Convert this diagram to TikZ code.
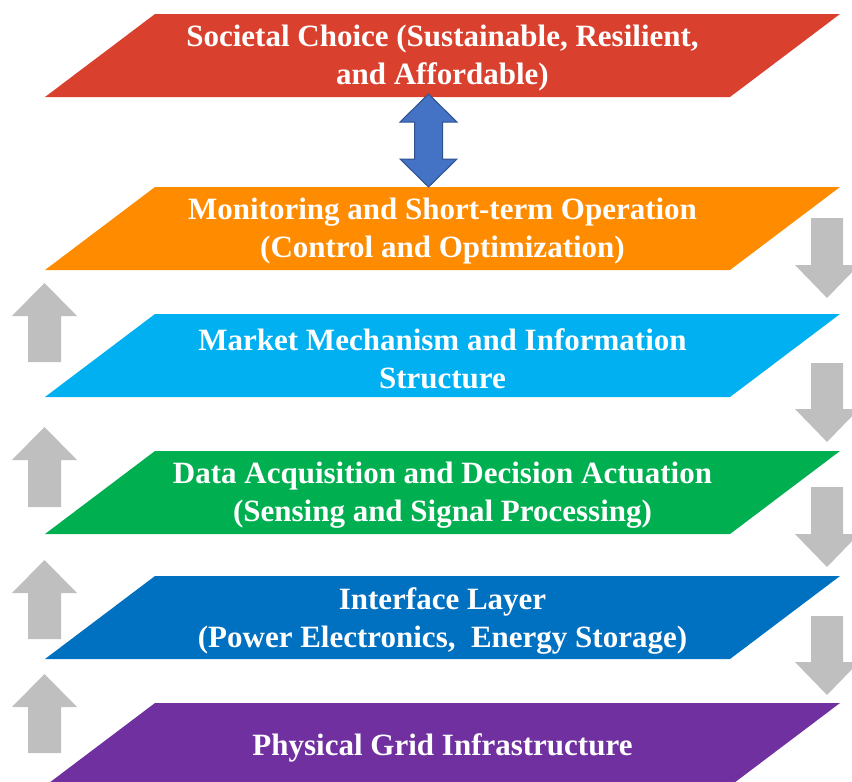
\documentclass[tikz,border=0pt]{standalone}
\usepackage{fontspec}
\setmainfont{Liberation Serif}
\definecolor{lred}{HTML}{D9412E}
\definecolor{lorange}{HTML}{FF8C00}
\definecolor{lcyan}{HTML}{00B0F0}
\definecolor{lgreen}{HTML}{00B050}
\definecolor{lblue}{HTML}{0070C0}
\definecolor{lpurple}{HTML}{7030A0}
\definecolor{arrgray}{HTML}{BFBFBF}
\definecolor{dblfill}{HTML}{4472C4}
\definecolor{dbldraw}{HTML}{2F528F}
\newcommand\layerbox[4]{% name, top y, colour, text
  \fill[#3] (155,#2) -- (840,#2) -- (730,#2+83) -- (45,#2+83) -- cycle;
  \node[layertext] (#1) at (442.5,#2+44.5) {#4};}
\newcommand\grayuparrow[3]{% name, tip y, bottom y
  \fill[grayarrow] (44.5,#2) -- (77,#2+33) -- (61,#2+33) -- (61,#3) -- (28,#3) -- (28,#2+33) -- (12,#2+33) -- cycle;
  \coordinate (#1) at (44.5,#2);}
\newcommand\graydownarrow[3]{% name, top y, tip y
  \fill[grayarrow] (811,#2) -- (843,#2) -- (843,#3-33) -- (859,#3-33) -- (827,#3) -- (795,#3-33) -- (811,#3-33) -- cycle;
  \coordinate (#1) at (827,#3);}
\begin{document}
\begin{tikzpicture}[x=1pt,y=-1pt,
  layertext/.style={text=white,align=center,font=\fontsize{31}{38}\selectfont\bfseries,inner sep=0pt},
  grayarrow/.style={fill=arrgray},
  dblarrow/.style={fill=dblfill,draw=dbldraw,line width=1pt,line join=miter}]
\useasboundingbox (0,0) rectangle (852,782);
\begin{scope}
\clip (0,0) rectangle (852,782);
\layerbox{societal}{14}{lred}{Societal Choice (Sustainable, Resilient,\\and Affordable)}
\layerbox{monitor}{187}{lorange}{Monitoring and Short-term Operation\\(Control and Optimization)}
\layerbox{market}{314}{lcyan}{Market Mechanism and Information\\Structure}
\layerbox{data}{451}{lgreen}{Data Acquisition and Decision Actuation\\(Sensing and Signal Processing)}
\layerbox{interface}{576}{lblue}{Interface Layer\\(Power Electronics,\ \ Energy Storage)}
\layerbox{physical}{703}{lpurple}{Physical Grid Infrastructure}
\grayuparrow{up1}{283}{362}
\grayuparrow{up2}{427}{507}
\grayuparrow{up3}{560}{639}
\grayuparrow{up4}{674}{753}
\graydownarrow{dn1}{218}{298}
\graydownarrow{dn2}{363}{442}
\graydownarrow{dn3}{487}{567}
\graydownarrow{dn4}{616}{695}
\draw[dblarrow] (428.5,94) -- (457,122) -- (442.5,122) -- (442.5,159) -- (457,159) -- (428.5,187) -- (400,159) -- (414.5,159) -- (414.5,122) -- (400,122) -- cycle;
\end{scope}
\end{tikzpicture}
\end{document}
